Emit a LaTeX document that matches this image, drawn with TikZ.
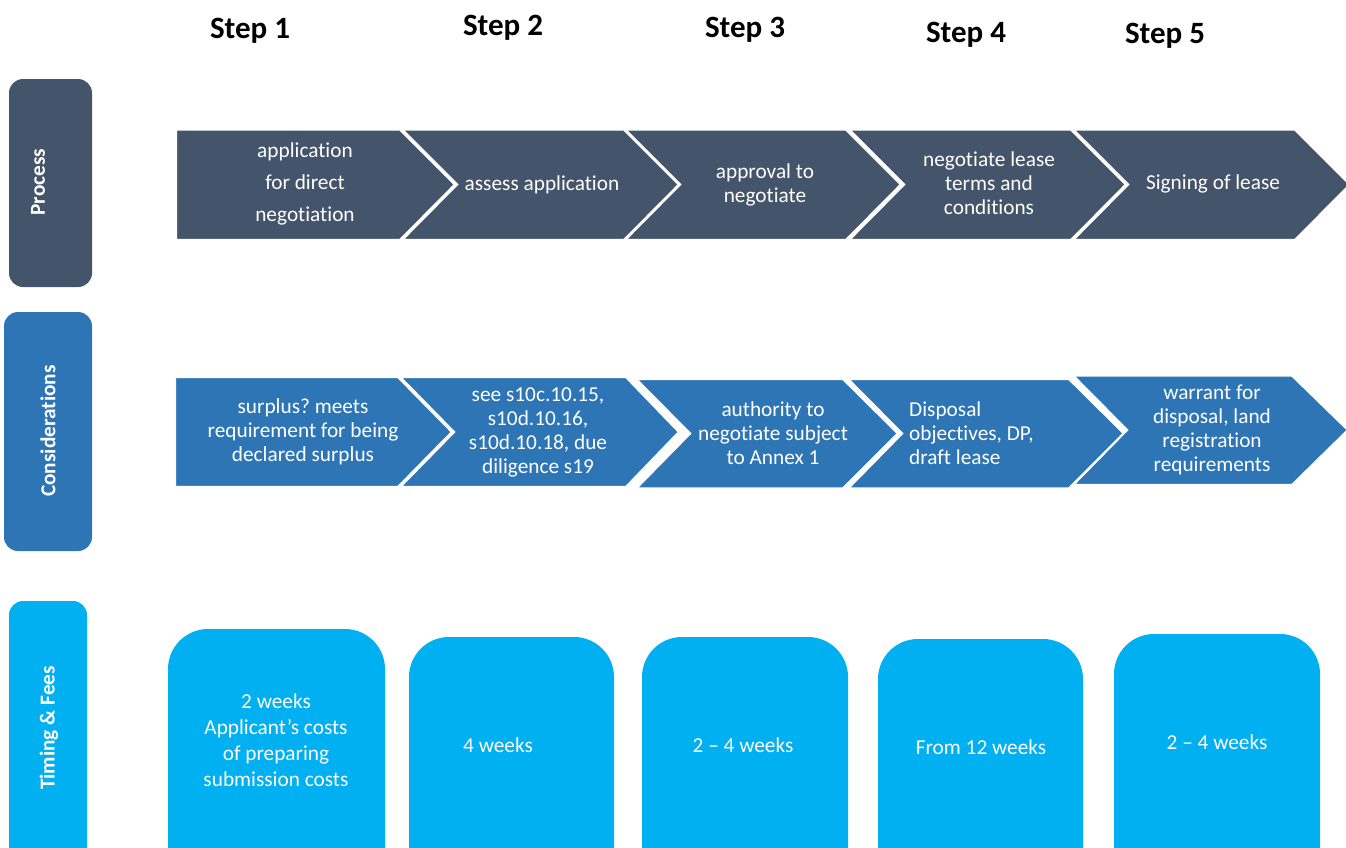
\documentclass[tikz,border=0pt]{standalone}
\usepackage{fontspec}
\setmainfont{Carlito}[Ligatures=NoCommon]
\frenchspacing
\definecolor{procc}{HTML}{44546A}
\definecolor{consc}{HTML}{2E75B6}
\definecolor{timec}{HTML}{00B0F0}
\begin{document}
\begin{tikzpicture}[x=1pt,y=-1pt,
  body/.style={text=white,align=center,inner sep=0pt,font=\fontsize{21.3}{24}\selectfont},
  steplbl/.style={anchor=base,inner sep=0pt,font=\bfseries\fontsize{31}{36}\selectfont},
  rowlbl/.style={rotate=90,text=white,inner sep=0pt,font=\bfseries\fontsize{21.3}{25}\selectfont},
  chev/.style={draw=white,line width=2.2pt,line join=miter},
  sidebox/.style={rounded corners=14pt},
  tbox/.style={fill=timec,rounded corners=40pt}]
\useasboundingbox (0,0) rectangle (1346,847);
\clip (0,0) rectangle (1346,847);
% step headings
\node[steplbl] (s1) at (250,38) {Step 1};
\node[steplbl] (s2) at (503,35) {Step 2};
\node[steplbl] (s3) at (745,37) {Step 3};
\node[steplbl] (s4) at (966,42) {Step 4};
\node[steplbl] (s5) at (1165,43) {Step 5};
% side boxes
\fill[procc,sidebox] (9,79) rectangle (92,287);
\fill[consc,sidebox] (4,312) rectangle (92,551);
\fill[timec,sidebox] (9,601) rectangle (87,880);
\node[rowlbl] (lp) at (38,182) {Process};
\node[rowlbl] (lc) at (48,431) {Considerations};
\node[rowlbl] (lt) at (49,728) {Timing \& Fees};
% process row
\path[chev,fill=procc] (176,129.5) -- (400,129.5) -- (455,184.5) -- (400,240) -- (176,240) -- cycle;
\path[chev,fill=procc] (402,129.5) -- (624,129.5) -- (679,184.5) -- (624,240) -- (402,240) -- (457,184.5) -- cycle;
\path[chev,fill=procc] (625,129.5) -- (846,129.5) -- (901,184.5) -- (846,240) -- (625,240) -- (680,184.5) -- cycle;
\path[chev,fill=procc] (849,129.5) -- (1071,129.5) -- (1126,184.5) -- (1071,240) -- (849,240) -- (904,184.5) -- cycle;
\path[chev,fill=procc] (1073,129.5) -- (1295,129.5) -- (1350,184.5) -- (1295,240) -- (1073,240) -- (1128,184.5) -- cycle;
\node[body,font=\fontsize{21.3}{32}\selectfont] (p1) at (305,183.5) {application\\for direct\\negotiation};
\node[body] (p2) at (542,185) {assess application};
\node[body] (p3) at (765,184.5) {approval to\\negotiate};
\node[body] (p4) at (989,183.5) {negotiate lease\\terms and\\conditions};
\node[body] (p5) at (1213,184) {Signing of lease};
% considerations row
\path[chev,fill=consc] (175,377) -- (398,377) -- (452,432) -- (398,487) -- (175,487) -- cycle;
\path[chev,fill=consc] (400,377) -- (626,377) -- (679,432) -- (626,487) -- (400,487) -- (454,432) -- cycle;
\path[chev,fill=consc] (636,379) -- (843,379) -- (898,433.5) -- (843,488.5) -- (636,488.5) -- (690,433.5) -- cycle;
\path[chev,fill=consc] (848,379) -- (1069,379) -- (1124,433.5) -- (1069,488.5) -- (848,488.5) -- (902,433.5) -- cycle;
\path[chev,fill=consc] (1073,375.5) -- (1292,375.5) -- (1348,430) -- (1292,485) -- (1073,485) -- (1127,430) -- cycle;
\node[body] (c1) at (303,432) {surplus? meets\\requirement for being\\declared surplus};
\node[body] (c2) at (538,432) {see s10c.10.15,\\s10d.10.16,\\s10d.10.18, due\\diligence s19};
\node[body] (c3) at (773,433.5) {authority to\\negotiate subject\\to Annex 1};
\node[body,align=left,anchor=west] (c4) at (909,433) {Disposal\\objectives, DP,\\draft lease};
\node[body] (c5) at (1212,430) {warrant for\\disposal, land\\registration\\requirements};
% timing row
\path[tbox] (168,629) rectangle (385,900);
\path[tbox] (409,637) rectangle (614,900);
\path[tbox] (642,637) rectangle (848,900);
\path[tbox] (878,639) rectangle (1083,900);
\path[tbox] (1114,634) rectangle (1320,900);
\node[body,font=\fontsize{21.3}{26}\selectfont] (t1) at (276,740) {2 weeks\\Applicant’s costs\\of preparing\\submission costs};
\node[body] (t2) at (498,745) {4 weeks};
\node[body] (t3) at (743,745) {2 – 4 weeks};
\node[body] (t4) at (981,747) {From 12 weeks};
\node[body] (t5) at (1217,742) {2 – 4 weeks};
\end{tikzpicture}
\end{document}
